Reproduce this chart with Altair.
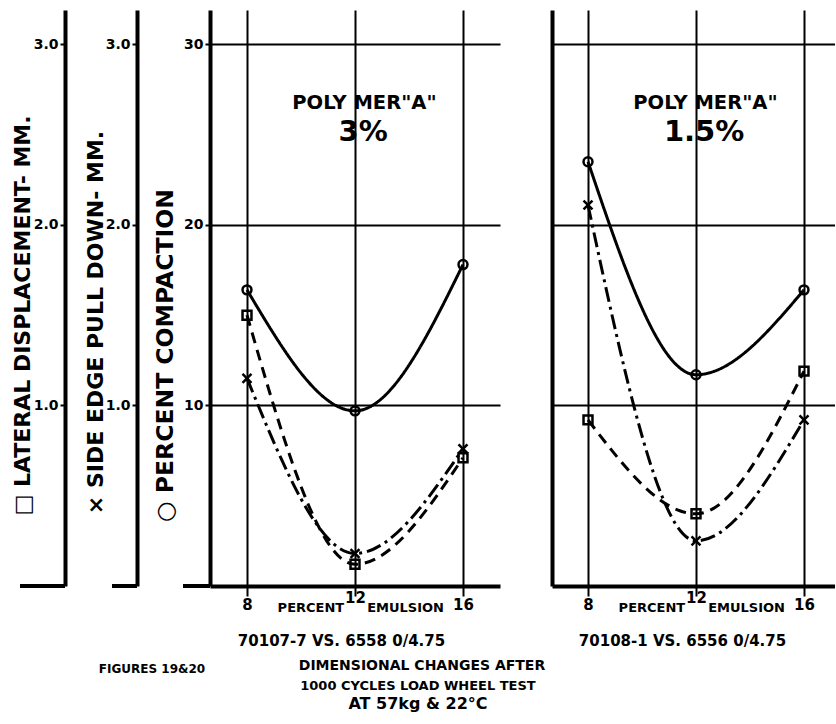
import altair as alt
import pandas as pd

# ---------------- data ----------------
emulsion = [8, 12, 16]                      # percent emulsion
# Panel "Polymer A 3%"
p1_compaction = [16.4, 9.7, 17.8]           # percent compaction (o)
p1_lateral = [1.50, 0.12, 0.71]             # lateral displacement, mm (square)
p1_side_edge = [1.15, 0.18, 0.76]           # side edge pull down, mm (x)
# Panel "Polymer A 1.5%"
p2_compaction = [23.5, 11.7, 16.4]
p2_lateral = [0.92, 0.40, 1.19]
p2_side_edge = [2.11, 0.25, 0.92]

pct_ticks = [10, 20, 30]
mm_ticks = [1.0, 2.0, 3.0]

series = ["compaction", "lateral", "side"]
series_factor = [1, 10, 10]
series_shapes = ["circle", "square", "M-1,-1L1,1M-1,1L1,-1"]
series_dashes = [[1, 0], [11, 7], [15, 5, 3, 5]]

panel_titles = ['POLY MER"A"', 'POLY MER"A"']
panel_percent = ["3%", "1.5%"]
panel_captions = ["70107-7 VS. 6558 0/4.75", "70108-1 VS. 6556 0/4.75"]
x_title_parts = ["PERCENT", "EMULSION"]
y_titles = ["□ LATERAL DISPLACEMENT- MM.", "× SIDE EDGE PULL DOWN- MM.", "○ PERCENT COMPACTION"]
figure_label = "FIGURES 19&20"
figure_title = ["DIMENSIONAL CHANGES AFTER", "1000 CYCLES LOAD WHEEL TEST", "AT 57kg & 22°C"]

# ---------------- layout / style ----------------
H = 576
Y_MAX = 31.9
MM_MAX = 3.19
PX_PER_UNIT = 27.0
FONT = "DejaVu Sans"
AXW = 4


def panel_df(comp, lat, side):
    rows = []
    for i, e in enumerate(emulsion):
        for s, f, vals in zip(series, series_factor, [comp, lat, side]):
            rows.append({"emulsion": e, "series": s, "value": vals[i], "factor": f})
    return pd.DataFrame(rows)


def text_layer(text, ypx, size, x=None, xpx=None, align="center"):
    ch = alt.Chart(pd.DataFrame({"t": [text]})).mark_text(
        text=text, fontSize=size, font=FONT, fontWeight="bold",
        align=align, baseline="middle", color="black")
    enc = {"y": alt.value(ypx)}
    if x is not None:
        enc["x"] = alt.datum(x)
    else:
        enc["x"] = alt.value(xpx)
    return ch.encode(**enc)


def make_panel(idx, comp, lat, side, width, x_left, show_y):
    df = panel_df(comp, lat, side)
    x_right = x_left + width / PX_PER_UNIT
    xs = alt.Scale(domain=[x_left, x_right], nice=False, zero=False)
    ys = alt.Scale(domain=[0, Y_MAX], nice=False, zero=False)
    x_axis = alt.Axis(
        values=emulsion, format="d", grid=True, gridColor="black", gridWidth=2, gridOpacity=1,
        domainColor="black", domainWidth=AXW, tickColor="black", tickWidth=2, tickSize=10,
        labelFont=FONT, labelFontSize=15, labelFontWeight="bold", labelColor="black",
        labelPadding=1, labelFlush=False,
        labelBaseline={"condition": {"test": "datum.value === 12", "value": "middle"}, "value": "top"},
        title=None)
    if show_y:
        y_axis = alt.Axis(
            values=pct_ticks, grid=True, gridColor="black", gridWidth=2, gridOpacity=1,
            domainColor="black", domainWidth=AXW, tickColor="black", tickWidth=2, tickSize=5,
            labelFont=FONT, labelFontSize=14, labelFontWeight="bold", labelColor="black",
            labelPadding=2,
            title=y_titles[2], titleX=-45, titleY=345, titleAngle=270, titleAlign="center",
            titleBaseline="middle", titleFont=FONT, titleFontSize=23.5, titleFontWeight="bold",
            titleColor="black")
    else:
        y_axis = alt.Axis(
            values=pct_ticks, grid=True, gridColor="black", gridWidth=2, gridOpacity=1,
            domainColor="black", domainWidth=AXW, ticks=False, labels=False, title=None)

    base = alt.Chart(df).transform_calculate(plot_y="datum.value * datum.factor")
    lines = base.mark_line(interpolate="monotone", color="black", strokeWidth=3).encode(
        x=alt.X("emulsion:Q", scale=xs, axis=x_axis),
        y=alt.Y("plot_y:Q", scale=ys, axis=y_axis),
        strokeDash=alt.StrokeDash("series:N", scale=alt.Scale(domain=series, range=series_dashes), legend=None),
    )
    points = base.mark_point(filled=False, color="black", strokeWidth=2.5, size=80, opacity=1).encode(
        x="emulsion:Q",
        y="plot_y:Q",
        shape=alt.Shape("series:N", scale=alt.Scale(domain=series, range=series_shapes), legend=None),
    )
    layers = [lines, points,
              text_layer(panel_titles[idx], 93, 19.5, x=12.35),
              text_layer(panel_percent[idx], 122, 29, x=12.3),
              text_layer(x_title_parts[0], 598, 13, x=11.6, align="right"),
              text_layer(x_title_parts[1], 598, 13, x=12.45, align="left"),
              text_layer(panel_captions[idx], 631, 15, x=11.5)]
    if show_y:
        ext = alt.Chart(pd.DataFrame({"a": [0]})).mark_rule(color="black", strokeWidth=AXW).encode(
            x=alt.value(-27), x2=alt.value(0), y=alt.value(H))
        layers += [ext,
                   text_layer(figure_label, 659, 12, xpx=-58),
                   text_layer(figure_title[0], 656, 14, xpx=212),
                   text_layer(figure_title[1], 676, 13, xpx=208),
                   text_layer(figure_title[2], 694, 16, xpx=208)]
    return alt.layer(*layers).properties(width=width, height=H)


def mm_axis_chart(title, title_x, title_y, width, zero_left, anchor):
    df = pd.DataFrame({"mm": mm_ticks})
    ax = alt.Axis(
        values=mm_ticks, format=".1f", grid=False,
        domainColor="black", domainWidth=AXW, tickColor="black", tickWidth=2, tickSize=5,
        labelFont=FONT, labelFontSize=14, labelFontWeight="bold", labelColor="black", labelPadding=2,
        title=title, titleX=title_x, titleY=title_y, titleAngle=270, titleAlign="center",
        titleBaseline="middle", titleFont=FONT, titleFontSize=22, titleFontWeight="bold",
        titleColor="black")
    pts = alt.Chart(df).mark_point(opacity=0).encode(
        y=alt.Y("mm:Q", scale=alt.Scale(domain=[0, MM_MAX], nice=False, zero=False), axis=ax))
    zero = alt.Chart(pd.DataFrame({"a": [0]})).mark_rule(color="black", strokeWidth=AXW).encode(
        x=alt.value(zero_left), x2=alt.value(0), y=alt.value(H))
    layers = [pts, zero]
    if anchor:
        layers.append(alt.Chart(pd.DataFrame({"a": [0]})).mark_rule(strokeOpacity=0, strokeWidth=0).encode(
            x=alt.value(-65), x2=alt.value(-64), y=alt.value(0)))
    return alt.layer(*layers).properties(width=width, height=H)


chart_lat = mm_axis_chart(y_titles[0], -43, 305, 72, -45, True)
chart_side = mm_axis_chart(y_titles[1], -42, 312, 73, -25, False)
panel1 = make_panel(0, p1_compaction, p1_lateral, p1_side_edge, 290, 8 - 37 / PX_PER_UNIT, True)
spacer = alt.Chart(pd.DataFrame({"a": [0]})).mark_point(opacity=0).properties(width=52, height=H)
panel2 = make_panel(1, p2_compaction, p2_lateral, p2_side_edge, 283, 8 - 36 / PX_PER_UNIT, False)

chart = alt.hconcat(chart_lat, chart_side, panel1, spacer, panel2, spacing=0, bounds="flush").properties(
    padding={"left": 0, "top": 10, "right": 0, "bottom": 0},
    background="white",
).configure_view(strokeWidth=0)

chart.save("out.html", embed_options={"renderer": "svg", "actions": False})
